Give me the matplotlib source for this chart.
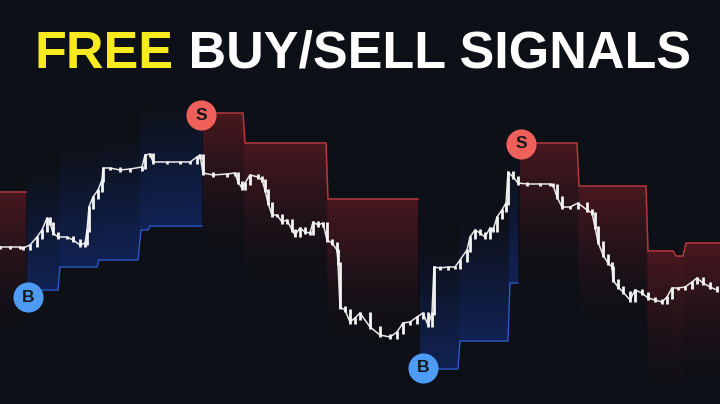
import numpy as np
import matplotlib.pyplot as plt

BG = "#0d1016"

# close prices (time in bar units, price in points)
price_t = [0, 10, 20, 23, 30, 37, 42, 47, 50, 53, 58, 67, 73, 80, 85, 87, 89, 93, 98,
           102, 103, 110, 120, 130, 142, 145, 150, 153, 167, 180, 190, 197, 200, 203,
           213, 227, 235, 238, 242, 245, 250, 258, 262, 265, 268, 272, 277, 282, 287,
           292, 295, 300, 305, 310, 313, 318, 323, 327, 332, 337, 338, 340, 345, 350,
           355, 360, 370, 380, 390, 397, 403, 410, 417, 423, 428, 432, 434, 440, 448,
           455, 460, 467, 470, 475, 480, 485, 490, 493, 497, 502, 506, 508, 513, 518,
           527, 540, 550, 553, 557, 562, 570, 578, 587, 592, 595, 598, 603, 608, 612,
           613, 618, 623, 630, 635, 642, 648, 655, 662, 667, 672, 678, 685, 692, 697,
           703, 710, 717]
price_close = [157, 157, 157, 156, 159, 167, 174, 186, 181, 171, 167, 167, 164, 159,
               161, 174, 197, 207, 214, 224, 236, 236, 234, 235, 237, 249, 250, 242,
               242, 242, 242, 247, 249, 231, 229, 230, 231, 222, 216, 221, 229, 227,
               224, 214, 201, 189, 189, 182, 184, 174, 169, 176, 172, 171, 182, 179,
               181, 164, 161, 154, 141, 97, 94, 82, 86, 91, 77, 69, 67, 72, 81, 82, 87,
               91, 79, 91, 137, 136, 137, 137, 144, 154, 167, 174, 171, 167, 176, 174,
               187, 194, 201, 232, 227, 221, 220, 220, 220, 219, 207, 197, 197, 201,
               194, 191, 177, 162, 149, 141, 137, 124, 117, 112, 104, 114, 111, 106,
               104, 102, 107, 116, 116, 117, 122, 126, 121, 117, 114]

# trailing stop: one row per flat step
stop_band = [0, 1, 1, 1, 1, 1, 2, 2, 2, 3, 3, 3, 4, 4, 4, 4, 4]
stop_side = ["sell", "buy", "buy", "buy", "buy", "buy", "sell", "sell", "sell",
             "buy", "buy", "buy", "sell", "sell", "sell", "sell", "sell"]
stop_start = [0, 27, 60, 99, 141, 150, 203, 245, 328, 420, 460, 510, 520, 579, 648, 676, 686]
stop_end = [26, 58, 97, 138, 148, 202, 243, 326, 418, 458, 508, 518, 577, 646, 673, 683, 720]
stop_level = [212, 114, 137, 144, 174, 178, 291, 261, 205, 35, 63, 121, 261, 218, 153, 148, 161]

# signals
signal_t = [28, 201, 423, 521]
signal_price = [107, 289, 36, 260]
signal_kind = ["B", "S", "B", "S"]

STYLE = {
    "sell": {"line": "#b23a3c", "fill": (0.62, 0.14, 0.17), "alpha": 0.42,
             "depth": 150, "power": 1.6, "lw": 1.1},
    "buy": {"line": "#2b57c8", "fill": (0.10, 0.28, 0.82), "alpha": 0.34,
            "depth": 125, "power": 1.0, "lw": 1.0},
}
SIGNAL_COLOR = {"B": "#4e9bf5", "S": "#f0605a"}

W, H = 720, 404


def band_vertices(band):
    idx = [i for i, b in enumerate(stop_band) if b == band]
    vx, vy = [], []
    for i in idx:
        vx += [stop_start[i], stop_end[i]]
        vy += [stop_level[i], stop_level[i]]
    return np.array(vx, float), np.array(vy, float), stop_side[idx[0]]


def draw_band(ax, band):
    vx, vy, side = band_vertices(band)
    st = STYLE[side]
    xs = np.arange(W) + 0.5
    ys = np.arange(H) + 0.5
    level = np.interp(xs, vx, vy)
    inside = (xs >= vx[0]) & (xs <= vx[-1])
    if side == "sell":
        d = level[None, :] - ys[:, None]
    else:
        d = ys[:, None] - level[None, :]
    frac = np.clip(1 - d / st["depth"], 0, 1) ** st["power"]
    frac[d < 0] = 0
    frac[:, ~inside] = 0
    img = np.zeros((H, W, 4))
    img[..., :3] = st["fill"]
    img[..., 3] = frac * st["alpha"]
    ax.imshow(img, extent=(0, W, 0, H), origin="lower", aspect="auto",
              interpolation="bilinear", zorder=1)
    ax.plot(vx, vy, color=st["line"], lw=st["lw"], zorder=2, solid_joinstyle="miter")


fig = plt.figure(figsize=(7.2, 4.04), dpi=100, facecolor=BG)
ax = fig.add_axes([0, 0, 1, 1])
ax.set_facecolor(BG)
ax.set_xlim(0, W)
ax.set_ylim(0, H)
ax.axis("off")

for band in sorted(set(stop_band)):
    draw_band(ax, band)

# price as small candles (open = previous close)
t = np.array(price_t, float)
c = np.array(price_close, float)
ax.plot(t, c, color="#e8e8e8", lw=1.1, zorder=3)
o = np.r_[c[0], c[:-1]]
lo = np.minimum(o, c) - 1.5
hi = np.maximum(o, c) + 1.5
ax.vlines(t, lo, hi, color="#f4f4f4", lw=2.0, zorder=4)

for st_t, st_p, kind in zip(signal_t, signal_price, signal_kind):
    ax.scatter(st_t, st_p, s=470, color=SIGNAL_COLOR[kind], zorder=6, linewidths=0)
    ax.text(st_t, st_p, kind, ha="center", va="center", fontsize=12.5,
            fontweight="bold", color="#15161a", zorder=7,
            family=["Liberation Sans", "DejaVu Sans"])

title_font = {"family": ["Liberation Sans", "DejaVu Sans"], "fontweight": "bold",
              "fontsize": 37.5}
t1 = fig.text(35 / W, 1 - 68 / H, "FREE", color="#f7ea1e", va="baseline",
              ha="left", **title_font)
ax.annotate(" BUY/SELL SIGNALS", xy=(1, 0), xycoords=t1, va="bottom", ha="left",
            color="white", **title_font)

fig.savefig("out.png", dpi=100, facecolor=BG)
